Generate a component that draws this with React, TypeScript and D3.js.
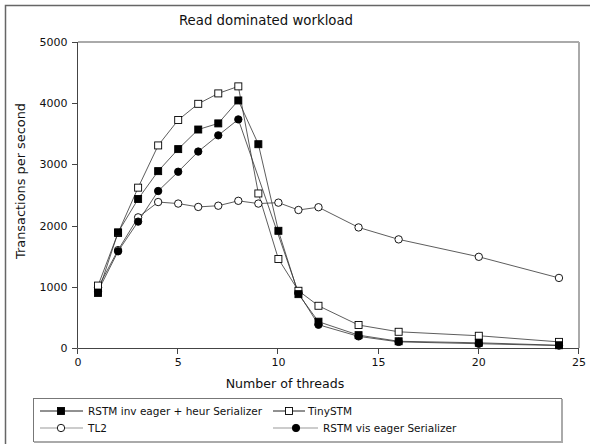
import React from "react";
import * as d3 from "d3";

const threads = [1, 2, 3, 4, 5, 6, 7, 8, 9, 10, 11, 12, 14, 16, 20, 24];
const rstmInv = [900, 1890, 2435, 2890, 3250, 3570, 3670, 4045, 3330, 1915, 880, 430, 210, 110, 85, 45];
const tinySTM = [1020, 1880, 2620, 3310, 3725, 3990, 4160, 4275, 2525, 1455, 935, 690, 375, 265, 200, 100];
const tl2 = [990, 1600, 2135, 2385, 2360, 2305, 2325, 2405, 2360, 2375, 2255, 2300, 1970, 1775, 1490, 1145];
const visThreads = [1, 2, 3, 4, 5, 6, 7, 8, 11, 12, 14, 16, 20, 24];
const rstmVis = [930, 1580, 2065, 2565, 2880, 3210, 3475, 3735, 900, 380, 190, 100, 70, 40];

const xTicks = [0, 5, 10, 15, 20, 25];
const yTicks = [0, 1000, 2000, 3000, 4000, 5000];

const FONT = "DejaVu Sans, sans-serif";

type Series = { name: string; xs: number[]; ys: number[]; shape: "square" | "circle"; filled: boolean };

const series: Series[] = [
  { name: "TL2", xs: threads, ys: tl2, shape: "circle", filled: false },
  { name: "RSTM vis eager Serializer", xs: visThreads, ys: rstmVis, shape: "circle", filled: true },
  { name: "TinySTM", xs: threads, ys: tinySTM, shape: "square", filled: false },
  { name: "RSTM inv eager + heur Serializer", xs: threads, ys: rstmInv, shape: "square", filled: true },
];

function Marker({ x, y, shape, filled }: { x: number; y: number; shape: string; filled: boolean }) {
  const fill = filled ? "#000" : "#fff";
  if (shape === "square") {
    return <rect x={x - 3.5} y={y - 3.5} width={7} height={7} fill={fill} stroke="#000" strokeWidth={0.9} />;
  }
  return <circle cx={x} cy={y} r={3.7} fill={fill} stroke="#000" strokeWidth={0.9} />;
}

export default function App() {
  const x = d3.scaleLinear().domain([0, 25]).range([78, 579]);
  const y = d3.scaleLinear().domain([0, 5000]).range([348, 42]);
  const line = d3
    .line<[number, number]>()
    .x((d) => x(d[0]))
    .y((d) => y(d[1]));

  const legendItems = [
    { s: series[3], lx1: 40, lx2: 83, mx: 61, tx: 88, cy: 411, lineColor: "#222" },
    { s: series[2], lx1: 273, lx2: 305, mx: 289, tx: 308, cy: 411, lineColor: "#222" },
    { s: series[0], lx1: 40, lx2: 83, mx: 61, tx: 88, cy: 428, lineColor: "#999" },
    { s: series[1], lx1: 273, lx2: 318, mx: 296, tx: 323, cy: 428, lineColor: "#999" },
  ];

  return (
    <svg
      width={590}
      height={444}
      style={{ position: "absolute", left: 0, top: 0, background: "#fff" }}
      fontFamily={FONT}
    >
      <rect x={0} y={0} width={590} height={444} fill="#fff" />
      <rect x={5.5} y={5.5} width={640} height={500} fill="none" stroke="#666" strokeWidth={1.5} />

      <text x={266} y={25} textAnchor="middle" fontSize={13.3} fill="#111">
        Read dominated workload
      </text>

      {/* plot frame */}
      <line x1={78} y1={42} x2={579} y2={42} stroke="#aaa" strokeWidth={2} />
      <line x1={579} y1={42} x2={579} y2={348} stroke="#aaa" strokeWidth={2} />
      <line x1={77.5} y1={42} x2={77.5} y2={348} stroke="#444" strokeWidth={1} />
      <line x1={78} y1={348.5} x2={579} y2={348.5} stroke="#444" strokeWidth={1} />

      {yTicks.map((t) => (
        <g key={"y" + t}>
          <line x1={72} x2={77.5} y1={Math.round(y(t)) + 0.5} y2={Math.round(y(t)) + 0.5} stroke="#444" />
          <text x={67.5} y={y(t) + 4} textAnchor="end" fontSize={11} fill="#111">
            {t}
          </text>
        </g>
      ))}
      {xTicks.map((t) => (
        <g key={"x" + t}>
          <line x1={Math.round(x(t)) - 0.5} x2={Math.round(x(t)) - 0.5} y1={348.5} y2={354} stroke="#444" />
          <text x={x(t)} y={366} textAnchor="middle" fontSize={11} fill="#111">
            {t}
          </text>
        </g>
      ))}

      <text x={285} y={388} textAnchor="middle" fontSize={12.6} fill="#111">
        Number of threads
      </text>
      <text
        transform="translate(25,181) rotate(-90)"
        textAnchor="middle"
        fontSize={12.9}
        fill="#111"
      >
        Transactions per second
      </text>

      {series.map((s) => (
        <path
          key={"l" + s.name}
          d={line(s.xs.map((v, i) => [v, s.ys[i]] as [number, number])) || ""}
          fill="none"
          stroke="#333"
          strokeWidth={0.8}
        />
      ))}
      {series.map((s) =>
        s.xs.map((v, i) => (
          <Marker key={s.name + i} x={x(v)} y={y(s.ys[i])} shape={s.shape} filled={s.filled} />
        ))
      )}

      {/* legend */}
      <rect x={33.5} y={398.5} width={528} height={43} fill="#fff" stroke="#777" strokeWidth={1} />
      <line x1={562} y1={399} x2={562} y2={443} stroke="#aaa" strokeWidth={2} />
      <line x1={34} y1={442} x2={563} y2={442} stroke="#aaa" strokeWidth={2} />
      {legendItems.map((it) => (
        <g key={"lg" + it.s.name}>
          <line x1={it.lx1} x2={it.lx2} y1={it.cy} y2={it.cy} stroke={it.lineColor} strokeWidth={1} />
          <Marker x={it.mx} y={it.cy} shape={it.s.shape} filled={it.s.filled} />
          <text x={it.tx} y={it.cy + 4} fontSize={10.5} fill="#111">
            {it.s.name}
          </text>
        </g>
      ))}
    </svg>
  );
}
